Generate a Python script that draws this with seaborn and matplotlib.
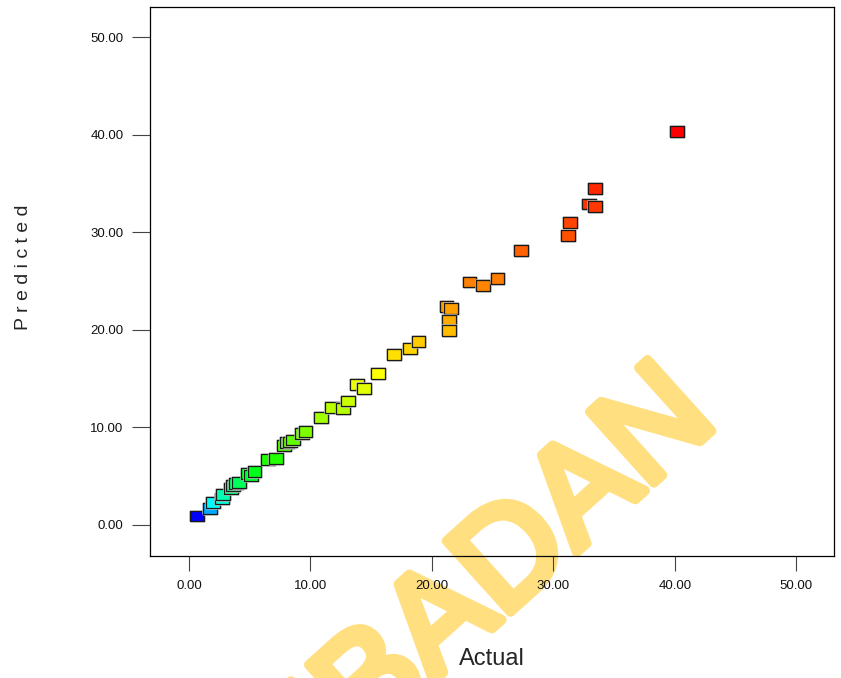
import numpy as np
import pandas as pd
import matplotlib
matplotlib.use('Agg')
import matplotlib.pyplot as plt
import matplotlib.colors as mcolors
import matplotlib.patheffects as pe
from matplotlib import font_manager
import seaborn as sns

# values
actual = [0.7, 1.7, 2.0, 2.7, 2.8, 3.5, 3.6, 3.9, 4.1, 4.9, 5.1, 5.4, 6.5, 7.2, 7.8,
          8.1, 8.3, 8.6, 9.3, 9.6, 10.9, 11.8, 12.7, 13.1, 13.8, 14.4, 15.6, 16.9, 18.2,
          18.9, 21.2, 21.6, 21.4, 21.4, 23.1, 24.2, 25.4, 27.3, 31.2, 31.4, 32.9, 33.4,
          33.4, 40.2]
predicted = [0.9, 1.7, 2.3, 2.7, 3.1, 3.7, 4.0, 4.2, 4.3, 5.3, 5.1, 5.5, 6.7, 6.8, 8.1,
             8.4, 8.5, 8.7, 9.4, 9.6, 11.0, 12.0, 11.9, 12.7, 14.4, 14.0, 15.5, 17.5, 18.1,
             18.8, 22.4, 22.2, 21.0, 19.9, 24.9, 24.5, 25.3, 28.1, 29.7, 31.0, 32.9, 34.5,
             32.6, 40.3]
ticks = [0, 10, 20, 30, 40, 50]
tick_labels = ['0.00', '10.00', '20.00', '30.00', '40.00', '50.00']

df = pd.DataFrame({'Actual': actual, 'Predicted': predicted})

sns.set_style('white')
plt.rcParams['font.family'] = ['Liberation Sans', 'DejaVu Sans']

# narrow face for the watermark if there is one
installed = {f.name for f in font_manager.fontManager.ttflist}
if 'Liberation Sans Narrow' in installed:
    wm_family, wm_size = 'Liberation Sans Narrow', 122
else:
    wm_family, wm_size = 'Liberation Sans', 100

# blue -> cyan -> green -> yellow -> red
hues = np.linspace(240, 0, 256) / 360.0
rainbow = mcolors.ListedColormap(
    mcolors.hsv_to_rgb(np.column_stack([hues, np.ones(256), np.ones(256)])))

fig = plt.figure(figsize=(8.41, 6.78), dpi=100)
ax = fig.add_axes([0.1784, 0.1799, 0.8133, 0.8098])
ax.set_facecolor('none')

box = [(-1, -0.78), (1, -0.78), (1, 0.78), (-1, 0.78), (-1, -0.78)]
sns.scatterplot(data=df, x='Actual', y='Predicted', hue='Predicted', palette=rainbow,
                hue_norm=mcolors.LogNorm(min(predicted), max(predicted)),
                marker=box, s=100, edgecolor='#1a1a1a', linewidth=0.9,
                legend=False, ax=ax, zorder=3,
                path_effects=[pe.withStroke(linewidth=1.8, foreground='#c4c4c4')])

ax.set_xlim(-3.2, 53.1)
ax.set_ylim(-3.2, 53.1)
ax.set_xticks(ticks)
ax.set_xticklabels(tick_labels)
ax.set_yticks(ticks)
ax.set_yticklabels(tick_labels)
ax.tick_params(axis='both', direction='out', width=0.8, color='#444444',
               labelsize=9.5, pad=6, labelcolor='#111111')
ax.tick_params(axis='x', length=11, bottom=True)
ax.tick_params(axis='y', length=13, left=True)
for sp in ax.spines.values():
    sp.set_color('black')
    sp.set_linewidth(0.9)

ax.set_xlabel('Actual', fontsize=17)
ax.xaxis.set_label_coords(0.5, -0.168)
ax.set_ylabel('P r e d i c t e d', fontsize=14)
ax.yaxis.set_label_coords(-0.172, 0.526)

# watermark behind the axes
fig.text(0.599, 0.16, 'IBADAN', rotation=42, fontsize=wm_size, color='#FFDF80',
         family=wm_family, ha='center', va='center', zorder=-1,
         path_effects=[pe.withStroke(linewidth=7, foreground='#FFDF80')])

fig.savefig('out.png', dpi=100)
